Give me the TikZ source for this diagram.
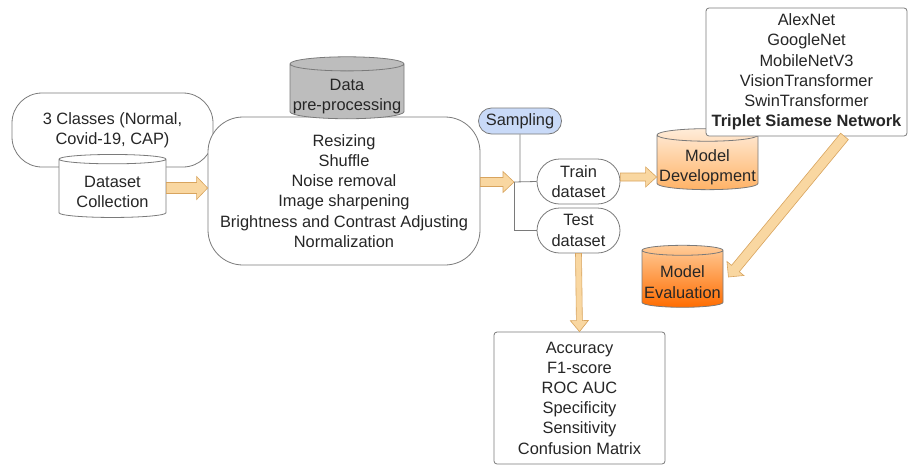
\documentclass[tikz,border=0pt]{standalone}
\usepackage{fontspec}
\setmainfont{Liberation Sans}
\usetikzlibrary{shapes.geometric,shapes.misc,calc}

\definecolor{linegray}{HTML}{7A7A7A}
\definecolor{textgray}{HTML}{262626}
\definecolor{arrowfill}{HTML}{F9D7A1}
\definecolor{arrowline}{HTML}{D8A45E}
\definecolor{samplefill}{HTML}{C9DAF8}
\definecolor{canfill}{HTML}{BDBDBD}

% block arrow between two points: \fatarrow[half body width]{from}{to}
\newcommand{\fatarrow}[3][4]{%
  \path (#2) coordinate (fa-s) (#3) coordinate (fa-e);
  \coordinate (fa-h) at ($(fa-e)!11pt!(fa-s)$);
  \draw[fatarrow] ($(fa-s)!#1pt!90:(fa-e)$) -- ($(fa-h)!#1pt!90:(fa-e)$)
    -- ($(fa-h)!#1pt+6pt!90:(fa-e)$) -- (fa-e)
    -- ($(fa-h)!#1pt+6pt!-90:(fa-e)$) -- ($(fa-h)!#1pt!-90:(fa-e)$)
    -- ($(fa-s)!#1pt!-90:(fa-e)$) -- cycle;
}
% text of a cylinder sits a little below its middle
\newcommand{\cantext}[1]{\raisebox{-5pt}[\height][\depth]{\begin{tabular}{@{}c@{}}#1\end{tabular}}}

\begin{document}
\begin{tikzpicture}[x=1pt,y=-1pt,font=\fontsize{16.4}{20.2}\selectfont,
  box/.style={draw=linegray,text=textgray,align=center,fill=white,line width=0.8pt},
  pill/.style={box,rectangle,rounded corners=#1},
  stadium/.style={box,rounded rectangle},
  can/.style={box,cylinder,shape border rotate=90,aspect=0.13,inner sep=0pt},
  fatarrow/.style={fill=arrowfill,draw=arrowline,line width=0.6pt},
  link/.style={draw=linegray,line width=0.8pt}]

\useasboundingbox (0,0) rectangle (909,466);

\node[pill=30pt,minimum width=201pt,minimum height=74pt] (classes) at (112.5,130)
  {3 Classes (Normal,\\Covid-19, CAP)};
\node[can,minimum width=107pt,minimum height=63pt] (dataset) at (112.5,188.5)
  {\cantext{Dataset\\Collection}};

\node[pill=35pt,minimum width=272pt,minimum height=148pt] (prep) at (344,191)
  {Resizing\\Shuffle\\Noise removal\\Image sharpening\\Brightness and Contrast Adjusting\\Normalization};
\node[can,fill=canfill,minimum width=114pt,minimum height=61pt] (preptop) at (347,91.5)
  {\cantext{Data\\pre-processing}};

\node[stadium,fill=samplefill,minimum width=85pt,minimum height=26pt,inner sep=1pt] (sampling) at (520,121) {Sampling};
\node[stadium,minimum width=85pt,minimum height=45pt,inner sep=1pt] (train) at (578.5,181.5) {Train\\dataset};
\node[stadium,minimum width=85pt,minimum height=45pt,inner sep=1pt] (test) at (578.5,230.5) {Test\\dataset};
\coordinate (split) at (514,182);

\node[can,top color=orange!15,bottom color=orange!60,minimum width=101pt,minimum height=61pt] (devel) at (707.5,162.5)
  {\cantext{Model\\Development}};
\node[pill=3pt,minimum width=201pt,minimum height=128pt] (models) at (806.5,72)
  {AlexNet\\GoogleNet\\MobileNetV3\\VisionTransformer\\SwinTransformer\\\textbf{Triplet Siamese Network}};
\node[can,top color=orange!40,bottom color=orange!85!red,minimum width=81pt,minimum height=62pt] (eval) at (682.5,279)
  {\cantext{Model\\Evaluation}};

\node[pill=3pt,minimum width=171pt,minimum height=132pt] (metrics) at (579.5,398)
  {Accuracy\\F1-score\\ROC AUC\\Specificity\\Sensitivity\\Confusion Matrix};

\draw[link] (sampling.south) -- (sampling.south |- split) (split) -- (train.west);
\draw[link] (split) |- (test.west);

\fatarrow[5.5]{dataset.east |- 0,188}{prep.west |- 0,188}
\fatarrow[4.5]{prep.east |- split}{split}
\fatarrow[4]{[yshift=4.5pt]train.east}{[yshift=4.5pt]train.east -| devel.west}
\fatarrow[5]{[xshift=38pt]models.south}{[xshift=5pt,yshift=2pt]eval.east}
\fatarrow[3]{test.south}{metrics.north}

\end{tikzpicture}
\end{document}
